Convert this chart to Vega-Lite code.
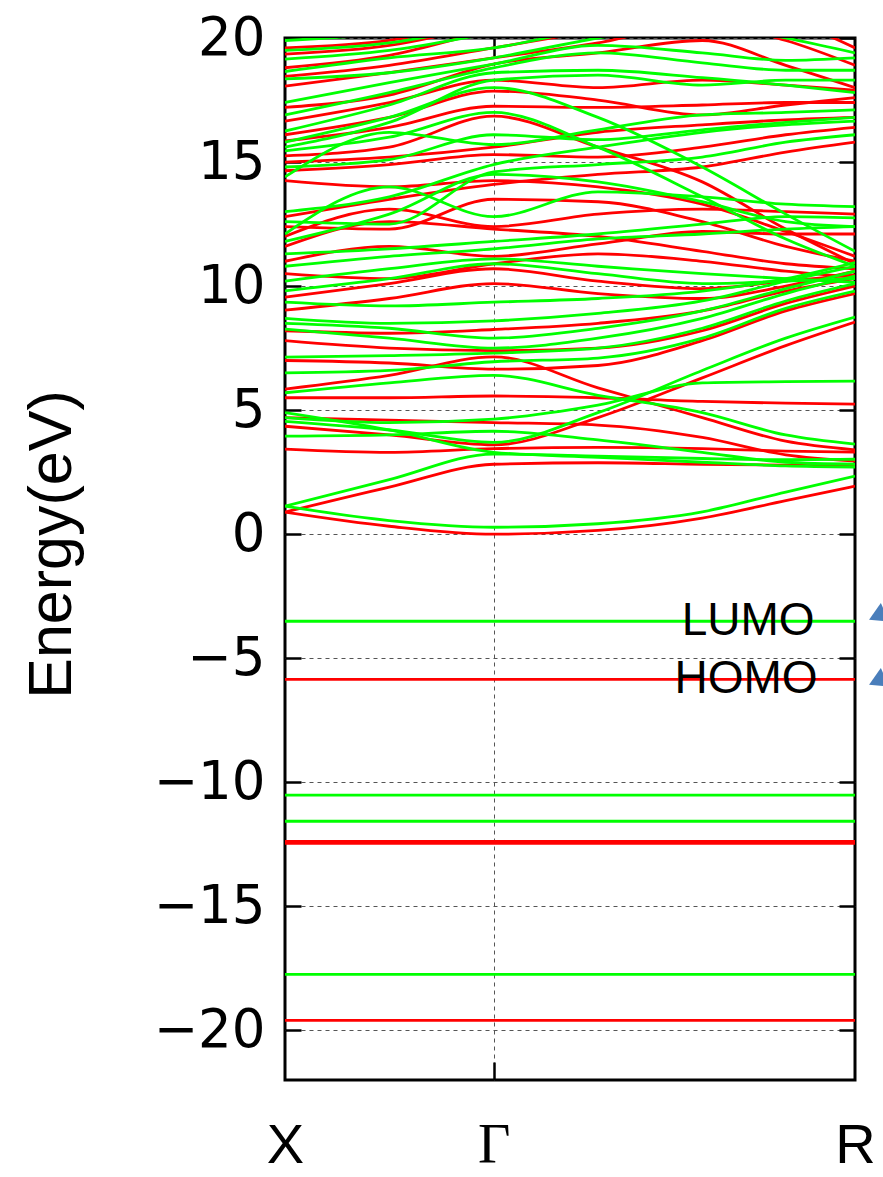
{
  "$schema": "https://vega.github.io/schema/vega-lite/v6.json",
  "width": 570,
  "height": 1042,
  "autosize": "none",
  "padding": {"left": 285, "top": 38, "right": 28, "bottom": 97},
  "background": "white",
  "config": {
    "view": {"stroke": "black", "strokeWidth": 3},
    "font": "Liberation Sans"
  },
  "datasets": {
    "bands": [
      {"band":"r01","spin":"up","k":0,"E":0.89},{"band":"r01","spin":"up","k":0.25,"E":0.32},{"band":"r01","spin":"up","k":0.5,"E":0.0},{"band":"r01","spin":"up","k":0.75,"E":0.15},{"band":"r01","spin":"up","k":1,"E":0.65},{"band":"r01","spin":"up","k":1.2,"E":1.35},{"band":"r01","spin":"up","k":1.366,"E":1.94},
      {"band":"r02","spin":"up","k":0,"E":0.89},{"band":"r02","spin":"up","k":0.25,"E":1.9},{"band":"r02","spin":"up","k":0.5,"E":2.82},{"band":"r02","spin":"up","k":0.75,"E":2.88},{"band":"r02","spin":"up","k":1,"E":2.82},{"band":"r02","spin":"up","k":1.2,"E":2.78},{"band":"r02","spin":"up","k":1.366,"E":2.75},
      {"band":"r03","spin":"up","k":0,"E":3.43},{"band":"r03","spin":"up","k":0.25,"E":3.3},{"band":"r03","spin":"up","k":0.5,"E":3.45},{"band":"r03","spin":"up","k":0.75,"E":3.5},{"band":"r03","spin":"up","k":1,"E":3.45},{"band":"r03","spin":"up","k":1.2,"E":3.35},{"band":"r03","spin":"up","k":1.366,"E":3.31},
      {"band":"r04","spin":"up","k":0,"E":4.35},{"band":"r04","spin":"up","k":0.25,"E":4.0},{"band":"r04","spin":"up","k":0.5,"E":3.6},{"band":"r04","spin":"up","k":0.75,"E":4.7},{"band":"r04","spin":"up","k":1,"E":6.3},{"band":"r04","spin":"up","k":1.2,"E":7.6},{"band":"r04","spin":"up","k":1.366,"E":8.55},
      {"band":"r05","spin":"up","k":0,"E":4.7},{"band":"r05","spin":"up","k":0.25,"E":4.6},{"band":"r05","spin":"up","k":0.5,"E":4.5},{"band":"r05","spin":"up","k":0.75,"E":4.4},{"band":"r05","spin":"up","k":1,"E":3.9},{"band":"r05","spin":"up","k":1.2,"E":3.2},{"band":"r05","spin":"up","k":1.366,"E":2.95},
      {"band":"r06","spin":"up","k":0,"E":5.5},{"band":"r06","spin":"up","k":0.25,"E":5.5},{"band":"r06","spin":"up","k":0.5,"E":5.57},{"band":"r06","spin":"up","k":0.75,"E":5.5},{"band":"r06","spin":"up","k":1,"E":5.35},{"band":"r06","spin":"up","k":1.2,"E":5.28},{"band":"r06","spin":"up","k":1.366,"E":5.24},
      {"band":"r07","spin":"up","k":0,"E":5.85},{"band":"r07","spin":"up","k":0.25,"E":6.4},{"band":"r07","spin":"up","k":0.5,"E":7.15},{"band":"r07","spin":"up","k":0.75,"E":5.9},{"band":"r07","spin":"up","k":1,"E":4.7},{"band":"r07","spin":"up","k":1.2,"E":3.75},{"band":"r07","spin":"up","k":1.366,"E":3.4},
      {"band":"r08","spin":"up","k":0,"E":7.0},{"band":"r08","spin":"up","k":0.25,"E":6.9},{"band":"r08","spin":"up","k":0.5,"E":6.65},{"band":"r08","spin":"up","k":0.75,"E":6.8},{"band":"r08","spin":"up","k":1,"E":7.8},{"band":"r08","spin":"up","k":1.2,"E":9.0},{"band":"r08","spin":"up","k":1.366,"E":9.7},
      {"band":"r09","spin":"up","k":0,"E":7.8},{"band":"r09","spin":"up","k":0.25,"E":7.5},{"band":"r09","spin":"up","k":0.5,"E":7.4},{"band":"r09","spin":"up","k":0.75,"E":7.5},{"band":"r09","spin":"up","k":1,"E":8.2},{"band":"r09","spin":"up","k":1.2,"E":9.3},{"band":"r09","spin":"up","k":1.366,"E":10.0},
      {"band":"r10","spin":"up","k":0,"E":8.2},{"band":"r10","spin":"up","k":0.25,"E":8.1},{"band":"r10","spin":"up","k":0.5,"E":8.25},{"band":"r10","spin":"up","k":0.75,"E":8.5},{"band":"r10","spin":"up","k":1,"E":9.0},{"band":"r10","spin":"up","k":1.2,"E":9.8},{"band":"r10","spin":"up","k":1.366,"E":10.3},
      {"band":"r11","spin":"up","k":0,"E":9.03},{"band":"r11","spin":"up","k":0.25,"E":9.5},{"band":"r11","spin":"up","k":0.5,"E":10.1},{"band":"r11","spin":"up","k":0.75,"E":9.7},{"band":"r11","spin":"up","k":1,"E":9.5},{"band":"r11","spin":"up","k":1.2,"E":10.0},{"band":"r11","spin":"up","k":1.366,"E":10.6},
      {"band":"r12","spin":"up","k":0,"E":9.55},{"band":"r12","spin":"up","k":0.25,"E":10.1},{"band":"r12","spin":"up","k":0.5,"E":10.7},{"band":"r12","spin":"up","k":0.75,"E":10.2},{"band":"r12","spin":"up","k":1,"E":9.9},{"band":"r12","spin":"up","k":1.2,"E":10.2},{"band":"r12","spin":"up","k":1.366,"E":10.45},
      {"band":"r13","spin":"up","k":0,"E":10.5},{"band":"r13","spin":"up","k":0.25,"E":10.3},{"band":"r13","spin":"up","k":0.5,"E":10.9},{"band":"r13","spin":"up","k":0.75,"E":11.3},{"band":"r13","spin":"up","k":1,"E":11.0},{"band":"r13","spin":"up","k":1.2,"E":10.6},{"band":"r13","spin":"up","k":1.366,"E":10.35},
      {"band":"r14","spin":"up","k":0,"E":11.0},{"band":"r14","spin":"up","k":0.25,"E":11.6},{"band":"r14","spin":"up","k":0.5,"E":11.2},{"band":"r14","spin":"up","k":0.75,"E":11.7},{"band":"r14","spin":"up","k":1,"E":12.2},{"band":"r14","spin":"up","k":1.2,"E":12.1},{"band":"r14","spin":"up","k":1.366,"E":12.1},
      {"band":"r15","spin":"up","k":0,"E":11.6},{"band":"r15","spin":"up","k":0.25,"E":12.6},{"band":"r15","spin":"up","k":0.5,"E":12.3},{"band":"r15","spin":"up","k":0.75,"E":12.0},{"band":"r15","spin":"up","k":1,"E":11.4},{"band":"r15","spin":"up","k":1.2,"E":10.9},{"band":"r15","spin":"up","k":1.366,"E":10.7},
      {"band":"r16","spin":"up","k":0,"E":12.0},{"band":"r16","spin":"up","k":0.25,"E":13.1},{"band":"r16","spin":"up","k":0.5,"E":12.4},{"band":"r16","spin":"up","k":0.75,"E":12.9},{"band":"r16","spin":"up","k":1,"E":13.1},{"band":"r16","spin":"up","k":1.2,"E":13.0},{"band":"r16","spin":"up","k":1.366,"E":12.9},
      {"band":"r17","spin":"up","k":0,"E":12.4},{"band":"r17","spin":"up","k":0.25,"E":12.3},{"band":"r17","spin":"up","k":0.5,"E":13.5},{"band":"r17","spin":"up","k":0.75,"E":13.4},{"band":"r17","spin":"up","k":1,"E":12.6},{"band":"r17","spin":"up","k":1.2,"E":11.6},{"band":"r17","spin":"up","k":1.366,"E":11.0},
      {"band":"r18","spin":"up","k":0,"E":12.8},{"band":"r18","spin":"up","k":0.25,"E":13.5},{"band":"r18","spin":"up","k":0.5,"E":14.1},{"band":"r18","spin":"up","k":0.75,"E":14.5},{"band":"r18","spin":"up","k":1,"E":14.8},{"band":"r18","spin":"up","k":1.2,"E":15.4},{"band":"r18","spin":"up","k":1.366,"E":15.8},
      {"band":"r19","spin":"up","k":0,"E":14.25},{"band":"r19","spin":"up","k":0.25,"E":14.0},{"band":"r19","spin":"up","k":0.5,"E":14.25},{"band":"r19","spin":"up","k":0.75,"E":14.0},{"band":"r19","spin":"up","k":1,"E":13.3},{"band":"r19","spin":"up","k":1.2,"E":12.2},{"band":"r19","spin":"up","k":1.366,"E":11.2},
      {"band":"r20","spin":"up","k":0,"E":14.65},{"band":"r20","spin":"up","k":0.25,"E":14.9},{"band":"r20","spin":"up","k":0.5,"E":15.3},{"band":"r20","spin":"up","k":0.75,"E":15.2},{"band":"r20","spin":"up","k":1,"E":15.6},{"band":"r20","spin":"up","k":1.2,"E":16.1},{"band":"r20","spin":"up","k":1.366,"E":16.4},
      {"band":"r21","spin":"up","k":0,"E":15.0},{"band":"r21","spin":"up","k":0.25,"E":15.2},{"band":"r21","spin":"up","k":0.5,"E":15.6},{"band":"r21","spin":"up","k":0.75,"E":16.2},{"band":"r21","spin":"up","k":1,"E":16.5},{"band":"r21","spin":"up","k":1.2,"E":16.7},{"band":"r21","spin":"up","k":1.366,"E":16.8},
      {"band":"r22","spin":"up","k":0,"E":15.25},{"band":"r22","spin":"up","k":0.25,"E":15.6},{"band":"r22","spin":"up","k":0.5,"E":16.85},{"band":"r22","spin":"up","k":0.75,"E":15.6},{"band":"r22","spin":"up","k":1,"E":14.2},{"band":"r22","spin":"up","k":1.2,"E":12.3},{"band":"r22","spin":"up","k":1.366,"E":10.9},
      {"band":"r23","spin":"up","k":0,"E":15.85},{"band":"r23","spin":"up","k":0.25,"E":16.4},{"band":"r23","spin":"up","k":0.5,"E":17.25},{"band":"r23","spin":"up","k":0.75,"E":17.2},{"band":"r23","spin":"up","k":1,"E":17.3},{"band":"r23","spin":"up","k":1.2,"E":17.4},{"band":"r23","spin":"up","k":1.366,"E":17.4},
      {"band":"r24","spin":"up","k":0,"E":16.1},{"band":"r24","spin":"up","k":0.25,"E":16.8},{"band":"r24","spin":"up","k":0.5,"E":17.86},{"band":"r24","spin":"up","k":0.75,"E":17.5},{"band":"r24","spin":"up","k":1,"E":16.9},{"band":"r24","spin":"up","k":1.2,"E":17.3},{"band":"r24","spin":"up","k":1.366,"E":17.6},
      {"band":"r25","spin":"up","k":0,"E":16.65},{"band":"r25","spin":"up","k":0.25,"E":17.4},{"band":"r25","spin":"up","k":0.5,"E":18.3},{"band":"r25","spin":"up","k":0.75,"E":18.0},{"band":"r25","spin":"up","k":1,"E":18.3},{"band":"r25","spin":"up","k":1.2,"E":18.1},{"band":"r25","spin":"up","k":1.366,"E":17.9},
      {"band":"r26","spin":"up","k":0,"E":17.2},{"band":"r26","spin":"up","k":0.25,"E":17.7},{"band":"r26","spin":"up","k":0.5,"E":18.95},{"band":"r26","spin":"up","k":0.75,"E":19.4},{"band":"r26","spin":"up","k":1,"E":19.9},{"band":"r26","spin":"up","k":1.2,"E":18.9},{"band":"r26","spin":"up","k":1.366,"E":18.0},
      {"band":"r27","spin":"up","k":0,"E":18.06},{"band":"r27","spin":"up","k":0.25,"E":18.6},{"band":"r27","spin":"up","k":0.5,"E":19.2},{"band":"r27","spin":"up","k":0.75,"E":19.8},{"band":"r27","spin":"up","k":1,"E":20.6},{"band":"r27","spin":"up","k":1.2,"E":19.9},{"band":"r27","spin":"up","k":1.366,"E":18.9},
      {"band":"r28","spin":"up","k":0,"E":18.45},{"band":"r28","spin":"up","k":0.25,"E":18.9},{"band":"r28","spin":"up","k":0.5,"E":19.6},{"band":"r28","spin":"up","k":0.75,"E":20.3},{"band":"r28","spin":"up","k":1,"E":20.8},{"band":"r28","spin":"up","k":1.2,"E":20.6},{"band":"r28","spin":"up","k":1.366,"E":19.6},
      {"band":"r29","spin":"up","k":0,"E":18.8},{"band":"r29","spin":"up","k":0.25,"E":19.3},{"band":"r29","spin":"up","k":0.5,"E":20.3},{"band":"r29","spin":"up","k":0.75,"E":20.8},
      {"band":"r30","spin":"up","k":0,"E":19.35},{"band":"r30","spin":"up","k":0.25,"E":19.7},{"band":"r30","spin":"up","k":0.5,"E":20.6},
      {"band":"r31","spin":"up","k":0,"E":19.6},{"band":"r31","spin":"up","k":0.25,"E":19.9},{"band":"r31","spin":"up","k":0.5,"E":20.8},

      {"band":"g01","spin":"down","k":0,"E":1.13},{"band":"g01","spin":"down","k":0.25,"E":0.55},{"band":"g01","spin":"down","k":0.5,"E":0.28},{"band":"g01","spin":"down","k":0.75,"E":0.42},{"band":"g01","spin":"down","k":1,"E":0.9},{"band":"g01","spin":"down","k":1.2,"E":1.7},{"band":"g01","spin":"down","k":1.366,"E":2.34},
      {"band":"g02","spin":"down","k":0,"E":1.13},{"band":"g02","spin":"down","k":0.25,"E":2.2},{"band":"g02","spin":"down","k":0.5,"E":3.23},{"band":"g02","spin":"down","k":0.75,"E":3.15},{"band":"g02","spin":"down","k":1,"E":3.05},{"band":"g02","spin":"down","k":1.2,"E":3.0},{"band":"g02","spin":"down","k":1.366,"E":3.02},
      {"band":"g03","spin":"down","k":0,"E":3.95},{"band":"g03","spin":"down","k":0.25,"E":4.0},{"band":"g03","spin":"down","k":0.5,"E":4.15},{"band":"g03","spin":"down","k":0.75,"E":3.8},{"band":"g03","spin":"down","k":1,"E":3.3},{"band":"g03","spin":"down","k":1.2,"E":2.9},{"band":"g03","spin":"down","k":1.366,"E":2.82},
      {"band":"g04","spin":"down","k":0,"E":4.55},{"band":"g04","spin":"down","k":0.25,"E":4.2},{"band":"g04","spin":"down","k":0.5,"E":3.7},{"band":"g04","spin":"down","k":0.75,"E":4.9},{"band":"g04","spin":"down","k":1,"E":6.6},{"band":"g04","spin":"down","k":1.2,"E":7.9},{"band":"g04","spin":"down","k":1.366,"E":8.75},
      {"band":"g05","spin":"down","k":0,"E":4.7},{"band":"g05","spin":"down","k":0.25,"E":4.5},{"band":"g05","spin":"down","k":0.5,"E":4.64},{"band":"g05","spin":"down","k":0.75,"E":5.2},{"band":"g05","spin":"down","k":1,"E":6.1},{"band":"g05","spin":"down","k":1.2,"E":6.15},{"band":"g05","spin":"down","k":1.366,"E":6.17},
      {"band":"g06","spin":"down","k":0,"E":4.9},{"band":"g06","spin":"down","k":0.25,"E":4.2},{"band":"g06","spin":"down","k":0.5,"E":3.3},{"band":"g06","spin":"down","k":0.75,"E":3.1},{"band":"g06","spin":"down","k":1,"E":2.9},{"band":"g06","spin":"down","k":1.2,"E":2.75},{"band":"g06","spin":"down","k":1.366,"E":2.7},
      {"band":"g07","spin":"down","k":0,"E":5.7},{"band":"g07","spin":"down","k":0.25,"E":6.1},{"band":"g07","spin":"down","k":0.5,"E":6.4},{"band":"g07","spin":"down","k":0.75,"E":5.6},{"band":"g07","spin":"down","k":1,"E":4.9},{"band":"g07","spin":"down","k":1.2,"E":4.0},{"band":"g07","spin":"down","k":1.366,"E":3.63},
      {"band":"g08","spin":"down","k":0,"E":6.5},{"band":"g08","spin":"down","k":0.25,"E":6.6},{"band":"g08","spin":"down","k":0.5,"E":6.95},{"band":"g08","spin":"down","k":0.75,"E":7.1},{"band":"g08","spin":"down","k":1,"E":7.9},{"band":"g08","spin":"down","k":1.2,"E":9.1},{"band":"g08","spin":"down","k":1.366,"E":9.8},
      {"band":"g09","spin":"down","k":0,"E":7.14},{"band":"g09","spin":"down","k":0.25,"E":7.2},{"band":"g09","spin":"down","k":0.5,"E":7.3},{"band":"g09","spin":"down","k":0.75,"E":7.5},{"band":"g09","spin":"down","k":1,"E":8.3},{"band":"g09","spin":"down","k":1.2,"E":9.4},{"band":"g09","spin":"down","k":1.366,"E":10.1},
      {"band":"g10","spin":"down","k":0,"E":8.27},{"band":"g10","spin":"down","k":0.25,"E":7.9},{"band":"g10","spin":"down","k":0.5,"E":7.5},{"band":"g10","spin":"down","k":0.75,"E":7.9},{"band":"g10","spin":"down","k":1,"E":8.7},{"band":"g10","spin":"down","k":1.2,"E":9.7},{"band":"g10","spin":"down","k":1.366,"E":10.4},
      {"band":"g11","spin":"down","k":0,"E":8.5},{"band":"g11","spin":"down","k":0.25,"E":8.3},{"band":"g11","spin":"down","k":0.5,"E":7.9},{"band":"g11","spin":"down","k":0.75,"E":8.3},{"band":"g11","spin":"down","k":1,"E":9.0},{"band":"g11","spin":"down","k":1.2,"E":9.9},{"band":"g11","spin":"down","k":1.366,"E":10.6},
      {"band":"g12","spin":"down","k":0,"E":8.7},{"band":"g12","spin":"down","k":0.25,"E":8.5},{"band":"g12","spin":"down","k":0.5,"E":8.6},{"band":"g12","spin":"down","k":0.75,"E":8.9},{"band":"g12","spin":"down","k":1,"E":9.4},{"band":"g12","spin":"down","k":1.2,"E":10.2},{"band":"g12","spin":"down","k":1.366,"E":10.8},
      {"band":"g13","spin":"down","k":0,"E":9.35},{"band":"g13","spin":"down","k":0.25,"E":9.2},{"band":"g13","spin":"down","k":0.5,"E":9.35},{"band":"g13","spin":"down","k":0.75,"E":9.5},{"band":"g13","spin":"down","k":1,"E":9.8},{"band":"g13","spin":"down","k":1.2,"E":10.3},{"band":"g13","spin":"down","k":1.366,"E":10.95},
      {"band":"g14","spin":"down","k":0,"E":9.81},{"band":"g14","spin":"down","k":0.25,"E":10.3},{"band":"g14","spin":"down","k":0.5,"E":10.9},{"band":"g14","spin":"down","k":0.75,"E":10.5},{"band":"g14","spin":"down","k":1,"E":10.1},{"band":"g14","spin":"down","k":1.2,"E":10.2},{"band":"g14","spin":"down","k":1.366,"E":10.3},
      {"band":"g15","spin":"down","k":0,"E":10.2},{"band":"g15","spin":"down","k":0.25,"E":10.7},{"band":"g15","spin":"down","k":0.5,"E":11.1},{"band":"g15","spin":"down","k":0.75,"E":10.8},{"band":"g15","spin":"down","k":1,"E":10.5},{"band":"g15","spin":"down","k":1.2,"E":10.3},{"band":"g15","spin":"down","k":1.366,"E":10.15},
      {"band":"g16","spin":"down","k":0,"E":10.8},{"band":"g16","spin":"down","k":0.25,"E":11.2},{"band":"g16","spin":"down","k":0.5,"E":11.5},{"band":"g16","spin":"down","k":0.75,"E":11.9},{"band":"g16","spin":"down","k":1,"E":12.1},{"band":"g16","spin":"down","k":1.2,"E":12.3},{"band":"g16","spin":"down","k":1.366,"E":12.4},
      {"band":"g17","spin":"down","k":0,"E":11.3},{"band":"g17","spin":"down","k":0.25,"E":11.5},{"band":"g17","spin":"down","k":0.5,"E":11.8},{"band":"g17","spin":"down","k":0.75,"E":12.1},{"band":"g17","spin":"down","k":1,"E":12.5},{"band":"g17","spin":"down","k":1.2,"E":12.8},{"band":"g17","spin":"down","k":1.366,"E":12.75},
      {"band":"g18","spin":"down","k":0,"E":11.8},{"band":"g18","spin":"down","k":0.25,"E":12.9},{"band":"g18","spin":"down","k":0.5,"E":14.5},{"band":"g18","spin":"down","k":0.75,"E":14.2},{"band":"g18","spin":"down","k":1,"E":13.4},{"band":"g18","spin":"down","k":1.2,"E":12.6},{"band":"g18","spin":"down","k":1.366,"E":12.4},
      {"band":"g19","spin":"down","k":0,"E":12.1},{"band":"g19","spin":"down","k":0.25,"E":14.0},{"band":"g19","spin":"down","k":0.5,"E":12.8},{"band":"g19","spin":"down","k":0.75,"E":13.8},{"band":"g19","spin":"down","k":1,"E":13.6},{"band":"g19","spin":"down","k":1.2,"E":13.3},{"band":"g19","spin":"down","k":1.366,"E":13.2},
      {"band":"g20","spin":"down","k":0,"E":12.6},{"band":"g20","spin":"down","k":0.25,"E":12.5},{"band":"g20","spin":"down","k":0.5,"E":14.6},{"band":"g20","spin":"down","k":0.75,"E":14.9},{"band":"g20","spin":"down","k":1,"E":15.2},{"band":"g20","spin":"down","k":1.2,"E":15.8},{"band":"g20","spin":"down","k":1.366,"E":16.1},
      {"band":"g21","spin":"down","k":0,"E":13.0},{"band":"g21","spin":"down","k":0.25,"E":13.6},{"band":"g21","spin":"down","k":0.5,"E":14.9},{"band":"g21","spin":"down","k":0.75,"E":15.6},{"band":"g21","spin":"down","k":1,"E":16.2},{"band":"g21","spin":"down","k":1.2,"E":16.5},{"band":"g21","spin":"down","k":1.366,"E":16.65},
      {"band":"g22","spin":"down","k":0,"E":14.4},{"band":"g22","spin":"down","k":0.25,"E":16.2},{"band":"g22","spin":"down","k":0.5,"E":15.7},{"band":"g22","spin":"down","k":0.75,"E":16.3},{"band":"g22","spin":"down","k":1,"E":16.9},{"band":"g22","spin":"down","k":1.2,"E":17.0},{"band":"g22","spin":"down","k":1.366,"E":17.1},
      {"band":"g23","spin":"down","k":0,"E":14.8},{"band":"g23","spin":"down","k":0.25,"E":15.1},{"band":"g23","spin":"down","k":0.5,"E":16.1},{"band":"g23","spin":"down","k":0.75,"E":15.9},{"band":"g23","spin":"down","k":1,"E":16.3},{"band":"g23","spin":"down","k":1.2,"E":16.6},{"band":"g23","spin":"down","k":1.366,"E":16.8},
      {"band":"g24","spin":"down","k":0,"E":15.45},{"band":"g24","spin":"down","k":0.25,"E":16.0},{"band":"g24","spin":"down","k":0.5,"E":17.0},{"band":"g24","spin":"down","k":0.75,"E":15.6},{"band":"g24","spin":"down","k":1,"E":13.6},{"band":"g24","spin":"down","k":1.2,"E":11.9},{"band":"g24","spin":"down","k":1.366,"E":10.8},
      {"band":"g25","spin":"down","k":0,"E":15.8},{"band":"g25","spin":"down","k":0.25,"E":16.8},{"band":"g25","spin":"down","k":0.5,"E":18.0},{"band":"g25","spin":"down","k":0.75,"E":16.8},{"band":"g25","spin":"down","k":1,"E":14.8},{"band":"g25","spin":"down","k":1.2,"E":12.9},{"band":"g25","spin":"down","k":1.366,"E":11.4},
      {"band":"g26","spin":"down","k":0,"E":15.6},{"band":"g26","spin":"down","k":0.25,"E":16.6},{"band":"g26","spin":"down","k":0.5,"E":18.3},{"band":"g26","spin":"down","k":0.75,"E":18.5},{"band":"g26","spin":"down","k":1,"E":18.1},{"band":"g26","spin":"down","k":1.2,"E":18.3},{"band":"g26","spin":"down","k":1.366,"E":18.3},
      {"band":"g27","spin":"down","k":0,"E":16.25},{"band":"g27","spin":"down","k":0.25,"E":17.3},{"band":"g27","spin":"down","k":0.5,"E":18.6},{"band":"g27","spin":"down","k":0.75,"E":18.7},{"band":"g27","spin":"down","k":1,"E":18.4},{"band":"g27","spin":"down","k":1.2,"E":18.1},{"band":"g27","spin":"down","k":1.366,"E":17.8},
      {"band":"g28","spin":"down","k":0,"E":16.9},{"band":"g28","spin":"down","k":0.25,"E":17.8},{"band":"g28","spin":"down","k":0.5,"E":18.8},{"band":"g28","spin":"down","k":0.75,"E":19.4},{"band":"g28","spin":"down","k":1,"E":19.0},{"band":"g28","spin":"down","k":1.2,"E":18.7},{"band":"g28","spin":"down","k":1.366,"E":18.7},
      {"band":"g29","spin":"down","k":0,"E":17.4},{"band":"g29","spin":"down","k":0.25,"E":18.2},{"band":"g29","spin":"down","k":0.5,"E":18.95},{"band":"g29","spin":"down","k":0.75,"E":19.7},{"band":"g29","spin":"down","k":1,"E":19.4},{"band":"g29","spin":"down","k":1.2,"E":19.1},{"band":"g29","spin":"down","k":1.366,"E":19.2},
      {"band":"g30","spin":"down","k":0,"E":18.35},{"band":"g30","spin":"down","k":0.25,"E":18.6},{"band":"g30","spin":"down","k":0.5,"E":19.2},{"band":"g30","spin":"down","k":0.75,"E":20.0},{"band":"g30","spin":"down","k":1,"E":20.6},{"band":"g30","spin":"down","k":1.2,"E":20.0},{"band":"g30","spin":"down","k":1.366,"E":19.4},
      {"band":"g31","spin":"down","k":0,"E":18.65},{"band":"g31","spin":"down","k":0.25,"E":19.2},{"band":"g31","spin":"down","k":0.5,"E":19.6},{"band":"g31","spin":"down","k":0.75,"E":20.4},{"band":"g31","spin":"down","k":1,"E":20.8},
      {"band":"g32","spin":"down","k":0,"E":19.15},{"band":"g32","spin":"down","k":0.25,"E":19.5},{"band":"g32","spin":"down","k":0.5,"E":20.2},{"band":"g32","spin":"down","k":0.75,"E":20.8},
      {"band":"g33","spin":"down","k":0,"E":19.5},{"band":"g33","spin":"down","k":0.25,"E":19.8},{"band":"g33","spin":"down","k":0.5,"E":20.6},
      {"band":"g34","spin":"down","k":0,"E":19.9},{"band":"g34","spin":"down","k":0.25,"E":20.2},{"band":"g34","spin":"down","k":0.5,"E":20.8}
    ],
    "levels": [
      {"band":"m1","spin":"up","k":0,"E":-5.85},{"band":"m1","spin":"up","k":1.366,"E":-5.85},
      {"band":"m2","spin":"up","k":0,"E":-12.38},{"band":"m2","spin":"up","k":1.366,"E":-12.38},
      {"band":"m3","spin":"up","k":0,"E":-12.46},{"band":"m3","spin":"up","k":1.366,"E":-12.46},
      {"band":"m4","spin":"up","k":0,"E":-19.6},{"band":"m4","spin":"up","k":1.366,"E":-19.6},
      {"band":"m5","spin":"down","k":0,"E":-3.51},{"band":"m5","spin":"down","k":1.366,"E":-3.51},
      {"band":"m6","spin":"down","k":0,"E":-10.52},{"band":"m6","spin":"down","k":1.366,"E":-10.52},
      {"band":"m7","spin":"down","k":0,"E":-11.57},{"band":"m7","spin":"down","k":1.366,"E":-11.57},
      {"band":"m8","spin":"down","k":0,"E":-17.74},{"band":"m8","spin":"down","k":1.366,"E":-17.74}
    ],
    "notes": [
      {"label":"LUMO","k":1.11,"E":-3.51},
      {"label":"HOMO","k":1.105,"E":-5.85}
    ],
    "pointers": [
      {"label":"LUMO","k":1.419,"E":-3.3,"k2":1.5,"E2":-2.85},
      {"label":"HOMO","k":1.419,"E":-5.92,"k2":1.5,"E2":-5.47}
    ]
  },
  "resolve": {"axis": {"x": "independent", "y": "independent"}},
  "layer": [
    {
      "data": {"name": "bands"},
      "mark": {"type": "line", "clip": true, "strokeWidth": 2.8, "interpolate": "monotone"},
      "encoding": {
        "x": {
          "field": "k", "type": "quantitative",
          "scale": {"domain": [0, 1.366], "nice": false, "zero": false},
          "axis": {
            "orient": "bottom", "values": [0, 0.5, 1.366], "title": null, "domain": false,
            "labelExpr": "datum.value == 0 ? 'X' : datum.value == 0.5 ? 'Γ' : 'R'",
            "labelFont": {"condition": {"test": "datum.value == 0.5", "value": "Liberation Serif"}, "value": "Liberation Sans"},
            "labelFontSize": 56, "labelColor": "black", "labelPadding": 56, "labelFlush": false,
            "ticks": true, "tickSize": -18, "tickWidth": 2.5, "tickColor": {"condition": {"test": "datum.value == 0.5", "value": "black"}, "value": "transparent"},
            "grid": true, "gridDash": [4, 4], "gridWidth": 1,
            "gridColor": {"condition": {"test": "datum.value == 0.5", "value": "#555555"}, "value": "transparent"}
          }
        },
        "y": {
          "field": "E", "type": "quantitative",
          "scale": {"domain": [-22, 20], "nice": false, "zero": false},
          "axis": {
            "orient": "left", "values": [-20, -15, -10, -5, 0, 5, 10, 15, 20], "format": "d",
            "title": "Energy(eV)", "titleFont": "Liberation Sans", "titleFontSize": 61, "titleFontWeight": "normal", "titleColor": "black", "titlePadding": 70, "titleY": 506,
            "domain": false, "labelFont": "DejaVu Sans", "labelFontSize": 53, "labelColor": "black", "labelPadding": 36,
            "ticks": true, "tickSize": -16, "tickWidth": 2.5, "tickColor": "black",
            "grid": true, "gridDash": [4, 4], "gridWidth": 1, "gridColor": "#555555"
          }
        },
        "color": {"field": "spin", "type": "nominal", "scale": {"domain": ["up", "down"], "range": ["#ff0000", "#00ff00"]}, "legend": null},
        "detail": {"field": "band"}
      }
    },
    {
      "data": {"name": "levels"},
      "mark": {"type": "line", "clip": true, "strokeWidth": 2.8},
      "encoding": {
        "x": {
          "field": "k", "type": "quantitative",
          "axis": {"orient": "top", "values": [0.5], "title": null, "domain": false, "labels": false, "grid": false,
                   "ticks": true, "tickSize": -18, "tickWidth": 2.5, "tickColor": "black"}
        },
        "y": {
          "field": "E", "type": "quantitative",
          "axis": {"orient": "right", "values": [-20, -15, -10, -5, 0, 5, 10, 15, 20], "title": null, "domain": false, "labels": false, "grid": false,
                   "ticks": true, "tickSize": -16, "tickWidth": 2.5, "tickColor": "black"}
        },
        "color": {"field": "spin", "type": "nominal", "legend": null},
        "detail": {"field": "band"}
      }
    },
    {
      "data": {"name": "notes"},
      "mark": {"type": "text", "font": "Liberation Sans", "fontSize": 46, "align": "center", "baseline": "middle", "color": "black"},
      "encoding": {
        "x": {"field": "k", "type": "quantitative", "axis": null},
        "y": {"field": "E", "type": "quantitative", "axis": null},
        "text": {"field": "label"}
      }
    },
    {
      "data": {"name": "pointers"},
      "mark": {"type": "rule", "color": "#4a7ebb", "strokeWidth": 3, "clip": false},
      "encoding": {
        "x": {"field": "k", "type": "quantitative", "axis": null},
        "y": {"field": "E", "type": "quantitative", "axis": null},
        "x2": {"field": "k2"},
        "y2": {"field": "E2"}
      }
    },
    {
      "data": {"name": "pointers"},
      "mark": {"type": "point", "shape": "triangle-left", "filled": true, "size": 420, "angle": -25, "color": "#4a7ebb", "opacity": 1, "clip": false},
      "encoding": {
        "x": {"field": "k", "type": "quantitative", "axis": null},
        "y": {"field": "E", "type": "quantitative", "axis": null}
      }
    }
  ]
}
